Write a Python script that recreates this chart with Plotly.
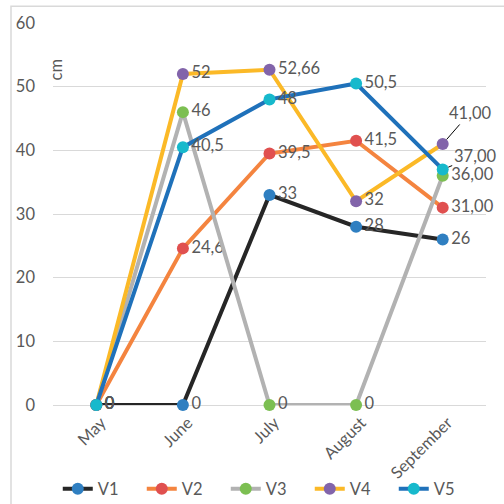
import plotly.graph_objects as go

months = ["May", "June", "July", "August", "September"]
series_names = ["V1", "V2", "V3", "V4", "V5"]
v1 = [0, 0, 33, 28, 26]
v2 = [0, 24.6, 39.5, 41.5, 31]
v3 = [0, 46, 0, 0, 36]
v4 = [0, 52, 52.66, 32, 41]
v5 = [0, 40.5, 48, 50.5, 37]
v1_labels = ["0", "0", "33", "28", "26"]
v2_labels = ["0", "24,6", "39,5", "41,5", "31,00"]
v3_labels = ["0", "46", "0", "0", "36,00"]
v4_labels = ["0", "52", "52,66", "32", ""]
v5_labels = ["0", "40,5", "48", "50,5", ""]
v4_sep_label = "41,00"
v5_sep_label = "37,00"
y_ticks = [0, 10, 20, 30, 40, 50, 60]

line_colors = ["#262626", "#F4843F", "#B2B2B2", "#FBB927", "#1F71BA"]
marker_colors = ["#2F7FC1", "#E0504F", "#7CBF52", "#8264AA", "#17B9CC"]

FONT = "Lato"
GRAY = "#595959"
FS = 16.5

fig = go.Figure()
all_vals = [v1, v2, v3, v4, v5]
all_labels = [v1_labels, v2_labels, v3_labels, v4_labels, v5_labels]
for name, vals, labs, lc, mc in zip(series_names, all_vals, all_labels, line_colors, marker_colors):
    fig.add_trace(go.Scatter(
        x=months, y=vals, name=name, mode="lines+markers+text",
        text=labs, textposition="middle right",
        textfont=dict(family=FONT, size=FS, color=GRAY),
        line=dict(color=lc, width=4),
        marker=dict(color=mc, size=12),
        cliponaxis=False,
    ))

fig.add_annotation(x="September", y=v4[4], text=v4_sep_label, showarrow=True,
                   ax=27, ay=-31, arrowhead=0, arrowwidth=1, arrowcolor="#000000",
                   standoff=6, font=dict(family=FONT, size=FS, color=GRAY))
fig.add_annotation(x="September", y=v5[4], text=v5_sep_label, showarrow=True,
                   ax=32, ay=-13, arrowhead=0, arrowwidth=1, arrowcolor="#000000",
                   standoff=6, font=dict(family=FONT, size=FS, color=GRAY))

fig.add_annotation(xref="paper", yref="paper", x=0.007, y=0.876, text="cm",
                   textangle=-90, showarrow=False, xanchor="center", yanchor="middle",
                   font=dict(family=FONT, size=FS, color=GRAY))

fig.add_shape(type="rect", xref="paper", yref="paper",
              x0=-0.097, x1=1.3, y0=-0.5, y1=1.0437,
              line=dict(color="#D9D9D9", width=1.5), fillcolor="rgba(0,0,0,0)", layer="below")

fig.update_layout(
    width=504, height=504,
    margin=dict(l=53, r=18, t=23, b=99, autoexpand=False),
    paper_bgcolor="white", plot_bgcolor="white",
    font=dict(family=FONT, size=FS, color=GRAY),
    showlegend=True,
    legend=dict(orientation="h", x=0.011, xanchor="left", y=-0.22, yanchor="middle",
                entrywidth=39, entrywidthmode="pixels", bgcolor="rgba(0,0,0,0)",
                font=dict(family=FONT, size=FS, color=GRAY)),
    xaxis=dict(type="category", range=[-0.5, 4.5], tickangle=-45, showgrid=False,
               showline=False, ticks="", zeroline=False, automargin=False,
               ticklabelstandoff=4, ticklabelshift=5,
               tickfont=dict(family=FONT, size=FS, color=GRAY)),
    yaxis=dict(range=[0, 60], tickvals=y_ticks, showgrid=True, gridcolor="#D9D9D9",
               gridwidth=1, zeroline=True, zerolinecolor="#D9D9D9", zerolinewidth=1,
               showline=False, ticks="", ticklabelstandoff=17, automargin=False,
               tickfont=dict(family=FONT, size=FS, color=GRAY)),
)

fig.write_html("out.html", config={"displayModeBar": False},
               post_script="document.body.style.margin='0';document.body.style.overflow='hidden';")
